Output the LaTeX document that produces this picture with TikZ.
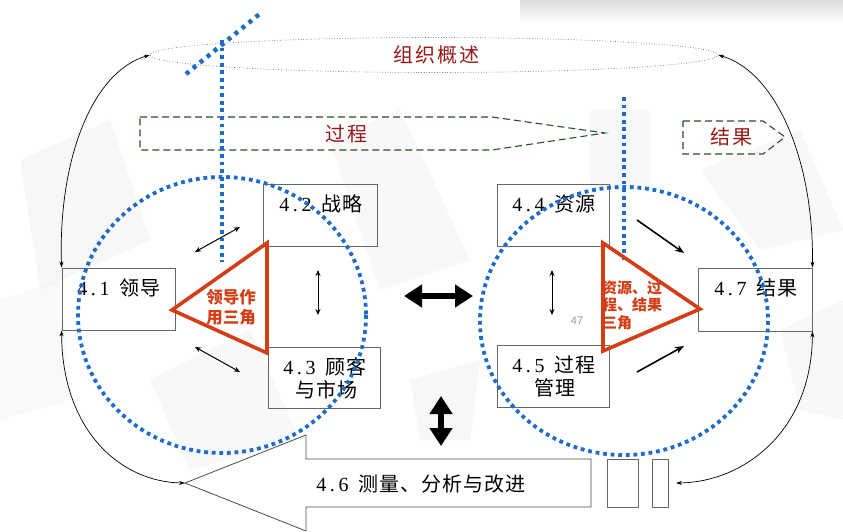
\documentclass[tikz,border=0pt]{standalone}
\usepackage{fontspec}
\setmainfont{Liberation Serif}
\newfontfamily\cjk{Noto Sans CJK SC}
\newfontfamily\cjkwide{Noto Sans CJK SC}[LetterSpace=5]
\newfontfamily\cjkmid{Noto Sans CJK SC}[LetterSpace=10]
\newfontfamily\serifwide{Liberation Serif}[LetterSpace=18]
\newfontfamily\sans{Liberation Sans}
\usetikzlibrary{arrows.meta,shapes.geometric}
\definecolor{dotblue}{RGB}{28,108,200}
\definecolor{trired}{RGB}{212,62,22}
\definecolor{gdash}{RGB}{40,80,40}
\definecolor{dred}{RGB}{150,24,24}
\definecolor{bggray}{RGB}{238,232,232}
\newcommand{\zh}[1]{{\cjkwide #1}}
\begin{document}
\begin{tikzpicture}[x=1pt,y=-1pt,
  box/.style={draw=black!60, line width=0.8pt, inner sep=0pt},
  boxtxt/.style={font=\fontsize{20}{22}\selectfont\serifwide, inner sep=0pt, align=center},
  redtxt/.style={text=dred, font=\fontsize{20}{22}\selectfont\cjkmid, inner sep=0pt},
  bluedot/.style={draw=dotblue, line width=3.8pt, dash pattern=on 3.8pt off 3.8pt},
  tri/.style={draw=trired, line width=3.6pt, line join=miter},
  tritxt/.style={text=trired, font=\fontsize{15}{17.5}\selectfont\cjk\bfseries, inner sep=0pt},
  gbox/.style={draw=gdash, line width=1.1pt, dash pattern=on 7pt off 4pt},
  curv/.style={line width=0.7pt, {Stealth[length=6pt,width=4pt]}-{Stealth[length=6pt,width=4pt]}},
  dbl/.style={line width=1pt, {Stealth[length=6pt,width=5pt]}-{Stealth[length=6pt,width=5pt]}},
  one/.style={line width=1.6pt, -{Stealth[length=9pt,width=7pt]}},
  big/.style={line width=6pt, {Triangle[length=18pt,width=22pt]}-{Triangle[length=18pt,width=22pt]}}
]
\useasboundingbox (0,0) rectangle (843,532);
\fill[white] (0,0) rectangle (843,532);
% faint background shapes
\shade[top color=black!14, bottom color=white] (520,0) rectangle (843,22);
\fill[bggray, opacity=0.35] (20,160) -- (110,120) -- (150,240) -- (40,290) -- cycle;
\fill[bggray, opacity=0.3] (150,380) -- (250,330) -- (300,440) -- (190,470) -- cycle;
\fill[bggray, opacity=0.3] (330,140) -- (400,110) -- (470,260) -- (380,290) -- cycle;
\fill[bggray, opacity=0.35] (410,380) -- (480,360) -- (470,440) -- (420,440) -- cycle;
\fill[bggray, opacity=0.3] (590,110) -- (650,110) -- (650,190) -- (590,190) -- cycle;
\fill[bggray, opacity=0.3] (700,170) -- (800,130) -- (843,230) -- (760,250) -- cycle;
\fill[bggray, opacity=0.3] (780,330) -- (843,300) -- (843,420) -- (800,410) -- cycle;
\fill[bggray, opacity=0.25] (0,300) -- (60,280) -- (70,400) -- (0,420) -- cycle;

% organisation overview ellipse
\node[ellipse, draw=black!70, line width=0.6pt, dotted, minimum width=568pt, minimum height=35pt, inner sep=0pt] (org) at (434,55) {};
\node[redtxt] (orgtxt) at (436,55) {组织概述};

% green dashed arrows
\draw[gbox] (140,117) -- (492,117) -- (605,133) -- (492,150) -- (140,150) -- cycle;
\node[redtxt] (guo) at (346,134) {过程};
\draw[gbox] (683,121) -- (763,121) -- (785,137) -- (763,154) -- (683,154) -- cycle;
\node[redtxt] (jie) at (731,137) {结果};

% boxes
\node[box, minimum width=113pt, minimum height=62pt] (b41) at (118.5,299) {};
\node[boxtxt] (t41) at (119,288) {4.1\hspace{10pt}\zh{领导}};
\node[box, minimum width=114pt, minimum height=62pt] (b42) at (320,215) {};
\node[boxtxt] (t42) at (321,204) {4.2\hspace{10pt}\zh{战略}};
\node[box, minimum width=112pt, minimum height=61pt] (b43) at (324,377.5) {};
\node[boxtxt] (t43) at (325,367) {4.3\hspace{10pt}\zh{顾客}};
\node[boxtxt] (t43b) at (326,390) {\zh{与市场}};
\node[box, minimum width=112pt, minimum height=62pt] (b44) at (553,215) {};
\node[boxtxt] (t44) at (554,204) {4.4\hspace{10pt}\zh{资源}};
\node[box, minimum width=112pt, minimum height=62pt] (b45) at (553,376) {};
\node[boxtxt] (t45) at (554,365) {4.5\hspace{10pt}\zh{过程}};
\node[boxtxt] (t45b) at (555,388) {\zh{管理}};
\node[box, minimum width=114pt, minimum height=63pt] (b47) at (755,299.5) {};
\node[boxtxt] (t47) at (756,288) {4.7\hspace{10pt}\zh{结果}};

% 4.6 big hollow arrow
\coordinate (tip46) at (185,483);
\draw[black!70, line width=0.8pt, fill=white] (tip46) -- (306,435) -- (306,459) -- (591,459) -- (591,507) -- (306,507) -- (306,531) -- cycle;
\node[boxtxt] (t46) at (421,484) {4.6\hspace{10pt}\zh{测量、分析与改进}};
\node[box, fill=white, minimum width=31pt, minimum height=48pt] (r1) at (622.5,483) {};
\node[box, fill=white, minimum width=16pt, minimum height=48pt] (r2) at (660,483) {};
\coordinate (end46r) at (676,483);

% curved connectors
\draw[curv] (org.west) .. controls (92,72) and (58,160) .. (b41.north west);
\draw[curv] (org.east) .. controls (776,72) and (814,160) .. (b47.north east);
\draw[curv] (b41.south west) .. controls (62,430) and (120,482) .. (tip46);
\draw[curv] (b47.south east) .. controls (812,430) and (745,482) .. (end46r);

% big black arrows
\coordinate (hL) at (404,296);
\coordinate (hR) at (473,296);
\coordinate (vT) at (441,396);
\coordinate (vB) at (441,446);
\draw[big] (hL) -- (hR);
\draw[big] (vT) -- (vB);

% small arrows
\coordinate (a1s) at (195,252); \coordinate (a1e) at (240,227);
\coordinate (a2s) at (318,270); \coordinate (a2e) at (318,315);
\coordinate (a3s) at (195,347); \coordinate (a3e) at (240,372);
\coordinate (a4s) at (552,270); \coordinate (a4e) at (552,315);
\coordinate (a5s) at (637,220); \coordinate (a5e) at (684,253);
\coordinate (a6s) at (637,372); \coordinate (a6e) at (684,346);
\draw[dbl] (a1s) -- (a1e);
\draw[dbl] (a2s) -- (a2e);
\draw[dbl] (a3s) -- (a3e);
\draw[dbl] (a4s) -- (a4e);
\draw[one] (a5s) -- (a5e);
\draw[one] (a6s) -- (a6e);
\node[text=black!40, font=\fontsize{11}{12}\selectfont\sans, inner sep=0pt] (pg) at (577,321) {47};

% blue dotted circles and lines
\draw[bluedot] (222,315) ellipse [x radius=144, y radius=138];
\draw[bluedot] (624,321) ellipse [x radius=144, y radius=134];
\draw[bluedot] (222,40) -- (222,262);
\draw[draw=dotblue, line width=4.5pt, dash pattern=on 4pt off 5pt] (186,74) -- (262,12);
\draw[bluedot] (624,97) -- (624,262);

% red triangles
\draw[tri] (172,310) -- (267,243) -- (267,353) -- cycle;
\node[tritxt, font=\fontsize{16.5}{20}\selectfont\cjk\bfseries, align=center] (ltri) at (231,307) {领导作\\用三角};
\draw[tri] (603,243) -- (700,309) -- (603,351) -- cycle;
\node[tritxt, align=left, anchor=west] (rtri) at (602,305) {资源、过\\程、结果\\三角};
\end{tikzpicture}
\end{document}
